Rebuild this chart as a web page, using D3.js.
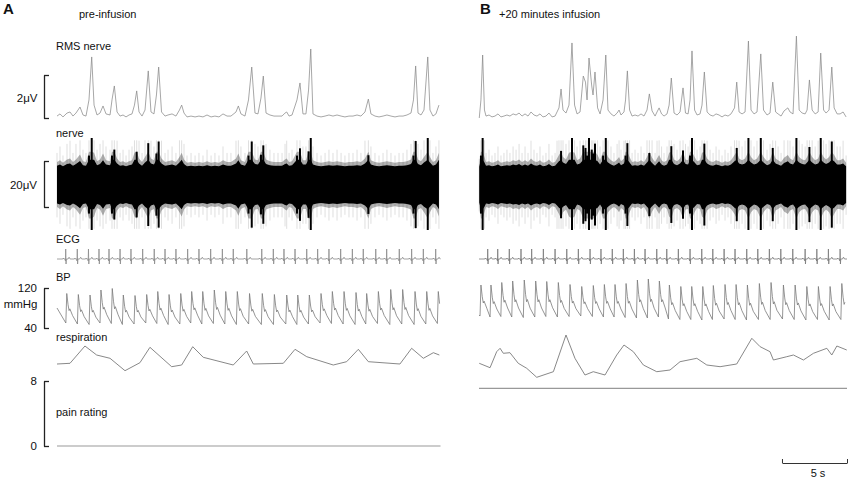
<!DOCTYPE html>
<html>
<head>
<meta charset="utf-8">
<script src="https://cdn.jsdelivr.net/npm/d3@7"></script>
<style type="text/css">
	body {
		margin: 0;
		background-color: #fff;
	}
	#chart text {
		font-family: "Liberation Sans", Arial, sans-serif;
	}
</style>
</head>
<body>
<div id="chart"></div>
<script type="text/javascript">

	// ---- data (time in s, RMS in uV, BP in mmHg, resp in a.u.) ----

	// RMS nerve, pre-infusion  [t, uV]
	const rmsA = [[0,0.09],[0.23,0.19],[0.46,0.05],[0.77,0.23],[1.0,0.28],[1.23,0.09],[1.46,0.23],[1.77,0.51],[2.0,0.14],[2.23,0.09],[2.46,0.84],[2.67,2.84],[2.85,0.6],[3.08,0.14],[3.31,0.23],[3.54,0.56],[3.77,0.19],[4.08,0.14],[4.23,0.84],[4.41,1.49],[4.62,0.28],[4.85,0.09],[5.08,0.14],[5.31,0.05],[5.54,0.14],[5.77,0.19],[5.96,0.6],[6.13,1.26],[6.31,0.28],[6.54,0.09],[6.77,0.37],[7.02,2.19],[7.23,0.28],[7.46,0.19],[7.65,1.07],[7.82,2.37],[8.04,0.28],[8.31,0.09],[8.54,0.14],[8.85,0.19],[9.15,0.09],[9.42,0.37],[9.59,0.6],[9.77,0.23],[10.0,0.05],[10.31,0.09],[10.62,0.05],[10.92,0.09],[11.23,0.05],[11.54,0.14],[11.85,0.05],[12.15,0.09],[12.46,0.05],[12.77,0.19],[13.08,0.09],[13.38,0.09],[13.77,0.28],[13.95,0.56],[14.15,0.19],[14.46,0.09],[14.73,0.84],[14.98,2.37],[15.23,0.23],[15.46,0.19],[15.69,0.93],[15.87,1.95],[16.08,0.23],[16.38,0.14],[16.69,0.09],[17.0,0.09],[17.31,0.09],[17.54,0.23],[17.67,0.28],[17.85,0.09],[18.08,0.14],[18.46,0.84],[18.69,1.63],[18.92,0.19],[19.15,0.19],[19.35,1.3],[19.52,3.21],[19.69,0.19],[20.0,0.09],[20.31,0.05],[20.62,0.09],[20.92,0.14],[21.23,0.09],[21.54,0.14],[21.85,0.09],[22.15,0.05],[22.46,0.09],[22.77,0.09],[23.08,0.14],[23.38,0.09],[23.69,0.28],[23.95,0.88],[24.15,0.19],[24.46,0.09],[24.77,0.05],[25.08,0.09],[25.38,0.14],[25.69,0.09],[26.0,0.05],[26.31,0.09],[26.62,0.09],[26.92,0.14],[27.23,0.23],[27.42,0.84],[27.59,2.42],[27.77,0.23],[28.0,0.14],[28.23,0.37],[28.52,2.84],[28.69,0.37],[28.92,0.09],[29.15,0.19],[29.38,0.6]];

	// RMS nerve, +20 min infusion  [t, uV]
	const rmsB = [[0.02,0],[0.15,0.84],[0.28,2.93],[0.42,0.37],[0.54,0.09],[0.77,0.14],[1.0,0.05],[1.23,0.09],[1.46,0.19],[1.69,0.05],[1.92,0.09],[2.15,0.14],[2.38,0.09],[2.62,0.19],[2.85,0.14],[3.08,0.23],[3.31,0.09],[3.54,0.19],[3.77,0.09],[4.0,0.28],[4.23,0.14],[4.46,0.09],[4.69,0.19],[4.92,0.05],[5.15,0.09],[5.38,0.23],[5.62,0.05],[5.85,0.09],[6.0,0.28],[6.15,0.47],[6.31,1.35],[6.46,0.37],[6.69,0.23],[6.92,0.6],[7.15,3.49],[7.35,0.6],[7.54,0.19],[7.77,0.28],[8.02,1.95],[8.19,1.67],[8.31,0.84],[8.46,2.79],[8.67,1.49],[8.77,1.07],[8.92,2.14],[9.12,0.47],[9.31,0.19],[9.54,0.84],[9.75,2.93],[9.92,0.37],[10.15,0.19],[10.38,0.09],[10.62,0.23],[10.77,0.37],[10.92,0.14],[11.15,0.28],[11.27,0.84],[11.41,2.19],[11.58,0.37],[11.77,0.09],[12.0,0.14],[12.23,0.09],[12.46,0.19],[12.69,0.09],[12.92,0.37],[13.1,1.12],[13.31,0.33],[13.54,0.09],[13.69,0.28],[13.85,0.47],[14.04,0.19],[14.23,0.09],[14.46,0.19],[14.62,0.6],[14.79,1.86],[15.0,0.23],[15.23,0.14],[15.46,0.28],[15.69,1.4],[15.88,0.23],[16.08,0.19],[16.23,0.84],[16.38,3.12],[16.58,0.37],[16.77,0.14],[17.0,0.19],[17.15,0.6],[17.33,2.14],[17.54,0.28],[17.77,0.14],[18.0,0.09],[18.23,0.19],[18.46,0.14],[18.69,0.05],[18.92,0.14],[19.15,0.09],[19.38,0.19],[19.65,0.47],[19.82,1.67],[20.0,0.28],[20.23,0.19],[20.46,0.28],[20.72,3.58],[20.92,0.37],[21.15,0.19],[21.38,0.28],[21.67,2.98],[21.88,0.37],[22.15,0.14],[22.38,0.23],[22.59,1.67],[22.81,0.28],[23.0,0.19],[23.23,0.09],[23.46,0.33],[23.75,0.47],[23.92,0.28],[24.15,0.19],[24.41,3.81],[24.62,0.37],[24.85,0.23],[25.08,0.19],[25.23,0.37],[25.41,1.77],[25.62,0.37],[25.85,0.19],[26.08,0.28],[26.28,3.02],[26.5,0.37],[26.69,0.23],[26.92,0.37],[27.13,2.37],[27.31,0.47],[27.54,0.19],[27.77,0.19],[28.0,0.28],[28.23,0.05]];

	// ECG R-wave times (s)
	const ecgBeatsA = [0.67,1.56,2.42,3.23,4.0,4.85,5.69,6.59,7.48,8.31,9.15,10.05,10.92,11.82,12.72,13.56,14.6,15.75,16.64,17.46,18.31,19.21,20.05,20.92,21.82,22.72,23.56,24.52,25.36,26.33,27.28,28.18,29.13];
	const ecgBeatsB = [0.67,1.44,2.33,3.23,4.05,4.95,5.85,6.75,7.64,8.54,9.38,10.25,11.1,11.95,12.77,13.67,14.44,15.33,16.23,17.13,17.98,18.85,19.69,20.59,21.44,22.33,23.21,24.13,25.08,25.98,26.87,27.77];

	// BP: systolic peak times (s), systolic and diastolic pressures (mmHg)
	const bpPeaksA = [0.75,1.64,2.54,3.38,4.25,5.1,6.0,6.9,7.75,8.62,9.52,10.36,11.21,12.1,12.98,13.87,14.81,15.79,16.72,17.67,18.52,19.41,20.31,21.18,22.08,23.0,23.82,24.72,25.67,26.59,27.54,28.44,29.33];
	const bpSysA = [109,107,106,116,119,106,105,107,113,107,109,113,113,116,113,113,109,109,107,106,106,106,109,113,113,111,109,113,117,117,113,113,113];
	const bpDiaA = [50,48,47,50,49,47,48,50,49,47,48,50,48,49,48,47,48,47,47,48,47,48,50,49,48,47,48,49,47,48,47,48,49];
	const bpPeaksB = [0.15,0.92,1.75,2.59,3.48,4.36,5.21,6.1,7.0,7.9,8.79,9.64,10.46,11.31,12.18,13.02,13.87,14.64,15.52,16.36,17.21,18.02,18.92,19.77,20.64,21.56,22.46,23.41,24.31,25.21,26.1,27.0,27.9];
	const bpSysB = [126,126,131,134,136,134,133,131,127,123,125,127,127,129,136,138,134,126,123,123,123,125,127,127,126,129,131,126,126,123,123,123,129];
	const bpDiaB = [64,62,63,62,61,62,63,62,63,64,63,62,62,61,60,60,62,58,57,57,56,57,58,57,56,57,57,58,57,56,57,56,57];

	// respiration [t, a.u.]
	const respA = [[0,1.6],[1.0,1.67],[2.15,3.4],[3.05,2.5],[4.08,2.17],[5.23,0.93],[6.38,1.73],[7.15,3.27],[8.82,1.33],[9.59,1.5],[10.44,3.33],[11.25,2.27],[13.56,1.5],[14.59,2.9],[15.1,1.6],[17.41,1.67],[18.31,3.07],[19.21,2.33],[21.25,1.5],[22.28,1.83],[23.18,3.07],[23.95,1.83],[26.38,1.6],[27.28,3.17],[28.18,2.17],[28.95,2.73],[29.41,2.5]];
	const respB = [[0.02,1.67],[0.85,1.23],[1.36,2.83],[1.62,3.17],[1.87,2.67],[2.38,2.73],[3.02,1.67],[3.67,1.17],[4.44,0.27],[5.72,0.83],[6.69,4.5],[7.38,2.17],[8.15,0.5],[8.79,0.83],[9.69,0.5],[10.59,2.5],[11.15,3.5],[11.87,2.83],[12.64,1.5],[13.67,0.83],[14.69,1.0],[15.46,1.83],[16.75,2.17],[17.52,1.5],[18.54,1.33],[19.82,1.6],[20.98,4.17],[21.62,3.33],[22.38,2.83],[22.64,2.0],[23.67,2.33],[24.18,2.5],[24.95,2.0],[25.72,2.67],[26.75,3.17],[27.13,2.5],[27.52,3.4],[28.28,3.0]];

	// pain rating (0-8)
	const painA = [[0,0],[29.5,0]];
	const painB = [[0,7.1],[28.3,7.1]];

	// -----------------------------------------------------------------------------

	const svg = d3.select("#chart").append("svg")
		.attr("width", 851).attr("height", 480)
		.style("display", "block");

	const xA = d3.scaleLinear().domain([0, 29.5]).range([57, 440.5]);
	const xB = d3.scaleLinear().domain([0, 28.3]).range([479, 847]);

	const yRms   = d3.scaleLinear().domain([0, 2]).range([118, 75]);
	const yNerve = d3.scaleLinear().domain([-10, 10]).range([207, 161]);
	const yEcg   = d3.scaleLinear().domain([-1, 1]).range([269, 249]);
	const yBp    = d3.scaleLinear().domain([40, 120]).range([328, 288]);
	const yResp  = d3.scaleLinear().domain([0, 4]).range([380, 340]);
	const yPain  = d3.scaleLinear().domain([0, 8]).range([446, 381]);

	// ecg complex shape around the R wave (dt s, relative amplitude)
	const ecgShape = [[-0.22,0],[-0.18,0.1],[-0.14,0],[-0.04,0],[-0.02,-0.2],[0,1],[0.025,-0.5],[0.05,0],[0.18,0],[0.26,0.18],[0.34,0]];

	function ecgTrace(beats, tEnd) {
		let pts = [[0, 0]];
		beats.forEach(b => {
			ecgShape.forEach(s => {
				let t = b + s[0];
				if (t > 0 && t < tEnd) pts.push([t, s[1]]);
			});
		});
		pts.push([tEnd, 0]);
		return pts;
	}

	function bpTrace(peaks, sys, dia, tEnd, startVal) {
		let pts = [[0, startVal]];
		peaks.forEach((tp, i) => {
			let S = sys[i], D = dia[i], A = S - D;
			[[tp - 0.07, D], [tp, S], [tp + 0.1, D + 0.62 * A], [tp + 0.18, D + 0.42 * A],
			 [tp + 0.24, D + 0.48 * A], [tp + 0.45, D + 0.25 * A]].forEach(p => {
				if (p[0] > 0 && p[0] <= tEnd) pts.push(p);
			});
		});
		return pts;
	}

	function trace(x, y, data, color, width) {
		svg.append("path")
			.datum(data)
			.attr("fill", "none")
			.attr("stroke", color)
			.attr("stroke-width", width)
			.attr("stroke-linejoin", "round")
			.attr("d", d3.line().x(d => x(d[0])).y(d => y(d[1])));
	}

	function drawNerve(x, rms) {
		let g = svg.append("g");
		// faint hairs
		g.selectAll("line.hair").data(rms).join("line")
			.attr("class", "hair")
			.attr("x1", d => x(d[0])).attr("x2", d => x(d[0]))
			.attr("y1", d => yNerve(Math.min(19, 11 + 28 * d[1])))
			.attr("y2", d => yNerve(-Math.min(19.5, 12 + 28 * d[1])))
			.attr("stroke", "#000").attr("stroke-opacity", 0.13).attr("stroke-width", 1);
		// grey fringe
		g.append("path").datum(rms)
			.attr("fill", "#000").attr("fill-opacity", 0.3)
			.attr("d", d3.area().x(d => x(d[0]))
				.y0(d => yNerve(-Math.min(15, 9.3 + 8 * d[1])))
				.y1(d => yNerve(Math.min(14, 8.8 + 8 * d[1]))));
		// black core
		g.append("path").datum(rms)
			.attr("fill", "#000")
			.attr("d", d3.area().x(d => x(d[0]))
				.y0(d => yNerve(-Math.min(11, 8 + 5 * d[1])))
				.y1(d => yNerve(Math.min(10.5, 7.5 + 5 * d[1]))));
		// bursts
		g.selectAll("line.burst").data(rms.filter(d => d[1] >= 0.8)).join("line")
			.attr("class", "burst")
			.attr("x1", d => x(d[0])).attr("x2", d => x(d[0]))
			.attr("y1", d => yNerve(Math.min(20, 9 + 4 * d[1])))
			.attr("y2", d => yNerve(-Math.min(20, 9.5 + 4 * d[1])))
			.attr("stroke", "#000").attr("stroke-width", 2);
	}

	// ---- traces ----
	trace(xA, yRms, rmsA, "#8a8a8a", 0.75);
	trace(xB, yRms, rmsB, "#8a8a8a", 0.75);

	drawNerve(xA, rmsA);
	drawNerve(xB, rmsB);

	trace(xA, yEcg, ecgTrace(ecgBeatsA, 29.5), "#8c8c8c", 0.8);
	trace(xB, yEcg, ecgTrace(ecgBeatsB, 28.3), "#7a7a7a", 0.8);

	trace(xA, yBp, bpTrace(bpPeaksA, bpSysA, bpDiaA, 29.5, 80), "#7a7a7a", 0.8);
	trace(xB, yBp, bpTrace(bpPeaksB, bpSysB, bpDiaB, 28.3, 66), "#7a7a7a", 0.8);

	trace(xA, yResp, respA, "#7a7a7a", 0.9);
	trace(xB, yResp, respB, "#7a7a7a", 0.9);

	trace(xA, yPain, painA, "#999", 1.2);
	trace(xB, yPain, painB, "#999", 1.2);

	// ---- calibration brackets ----
	function bracket(scale, vals) {
		let ax = d3.axisLeft(scale).tickValues(vals)
			.tickSizeInner(-5).tickSizeOuter(0).tickPadding(7)
			.tickFormat(d3.format("d"));
		let g = svg.append("g").attr("transform", "translate(44,0)").call(ax);
		g.select(".domain").attr("stroke", "#222").attr("stroke-width", 1.3);
		g.selectAll(".tick line").attr("stroke", "#222").attr("stroke-width", 1.3);
		g.selectAll(".tick text")
			.attr("font-size", 11.5).attr("fill", "#111")
			.attr("font-family", "'Liberation Sans', Arial, sans-serif");
		return g;
	}
	bracket(yRms, [0, 2]).selectAll(".tick text").remove();
	bracket(yNerve, [-10, 10]).selectAll(".tick text").remove();
	bracket(yBp, [40, 120]);
	bracket(yPain, [0, 8]);

	// 5 s time bar
	const xBar = d3.scaleLinear().domain([0, 5]).range([xB(23.3), xB(28.3)]);
	let bar = svg.append("g").attr("transform", "translate(0,463)")
		.call(d3.axisBottom(xBar).tickValues([0, 5]).tickSizeInner(-4).tickSizeOuter(0).tickFormat(""));
	bar.select(".domain").attr("stroke", "#333").attr("stroke-width", 1);
	bar.selectAll(".tick line").attr("stroke", "#333");

	// ---- text ----
	const labels = [
		{t: "A", x: 3, y: 13.5, s: 15, w: "bold"},
		{t: "pre-infusion", x: 79, y: 17.5, s: 11},
		{t: "B", x: 480, y: 13.5, s: 15, w: "bold"},
		{t: "+20 minutes infusion", x: 499, y: 17.5, s: 11},
		{t: "RMS nerve", x: 56, y: 50, s: 11},
		{t: "nerve", x: 56, y: 137, s: 11},
		{t: "ECG", x: 56, y: 243, s: 11},
		{t: "BP", x: 56, y: 281, s: 11},
		{t: "respiration", x: 56, y: 341, s: 11},
		{t: "pain rating", x: 56, y: 416, s: 11},
		{t: "2\u03bcV", x: 37.5, y: 102, s: 11.5, a: "end"},
		{t: "20\u03bcV", x: 37, y: 189, s: 11.5, a: "end"},
		{t: "mmHg", x: 37.5, y: 308, s: 11.5, a: "end"},
		{t: "5 s", x: 818, y: 477, s: 11, a: "middle"}
	];
	svg.selectAll("text.lbl").data(labels).join("text")
		.attr("class", "lbl")
		.attr("x", d => d.x).attr("y", d => d.y)
		.attr("font-size", d => d.s)
		.attr("font-weight", d => d.w || "normal")
		.attr("text-anchor", d => d.a || "start")
		.attr("fill", "#111")
		.text(d => d.t);

</script>
</body>
</html>
